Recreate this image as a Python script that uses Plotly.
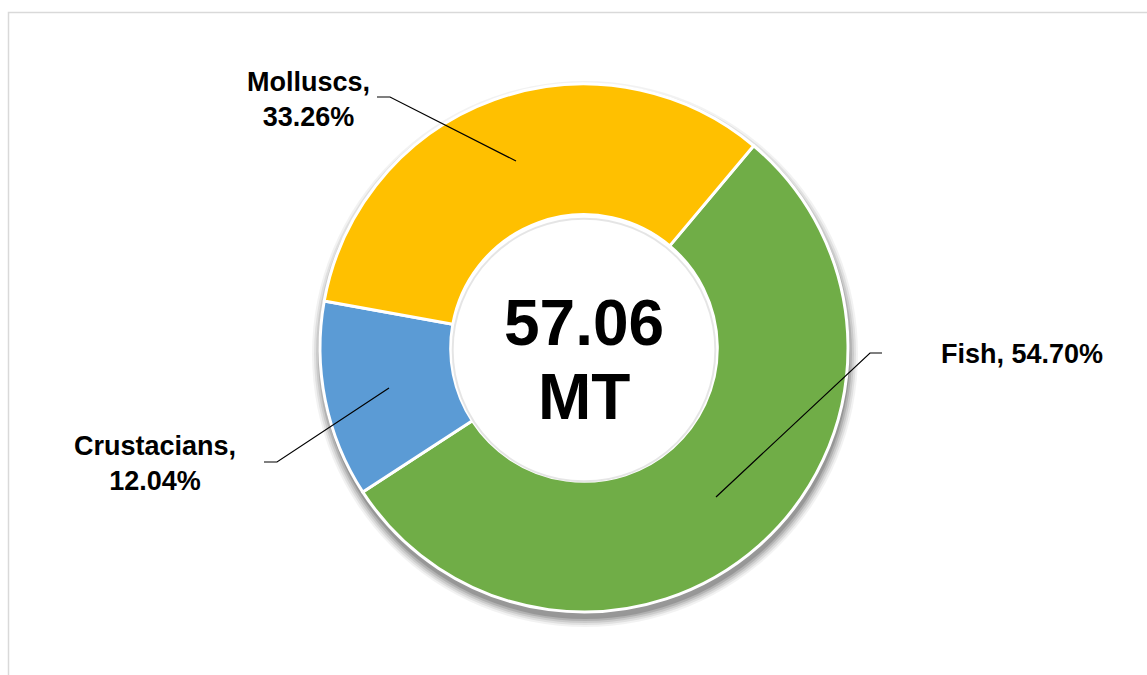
import plotly.graph_objects as go

# ---- data ----
categories = ["Fish", "Crustacians", "Molluscs"]
shares = [54.70, 12.04, 33.26]
colors = ["#70AD47", "#5B9BD5", "#FFC000"]
total_value = "57.06"
total_unit = "MT"

W, H = 1147, 675

def px(x):
    return x / W

def py(y):
    return 1 - y / H

cx, cy, R = 584, 348, 264
HOLE = 0.505

fig = go.Figure()

fig.add_trace(go.Pie(
    labels=categories,
    values=shares,
    sort=False,
    direction="clockwise",
    rotation=40,
    hole=HOLE,
    marker=dict(colors=colors, line=dict(color="white", width=3)),
    textinfo="none",
    hoverinfo="skip",
    showlegend=False,
    domain=dict(x=[px(cx - R), px(cx + R)], y=[py(cy + R), py(cy - R)]),
))

shapes = []
# border
shapes.append(dict(type="rect", xref="paper", yref="paper",
                   x0=px(8.5), x1=px(W + 20), y0=py(H + 20), y1=py(12.5),
                   line=dict(color="#D9D9D9", width=1.5), fillcolor="rgba(0,0,0,0)", layer="below"))
# soft shadow under outer ring
for dr, op in [(9, 0.05), (7, 0.07), (5, 0.09), (3, 0.12), (1, 0.15)]:
    r = R + dr
    sx, sy = cx + 1, cy + 6
    shapes.append(dict(type="circle", xref="paper", yref="paper",
                       x0=px(sx - r), x1=px(sx + r), y0=py(sy + r), y1=py(sy - r),
                       line=dict(width=0), fillcolor=f"rgba(0,0,0,{op})", layer="below"))
# white hole cover (over the shadow)
rh = R * HOLE
shapes.append(dict(type="circle", xref="paper", yref="paper",
                   x0=px(cx - rh), x1=px(cx + rh), y0=py(cy + rh), y1=py(cy - rh),
                   line=dict(width=0), fillcolor="white", layer="below"))
# faint inner shadow on hole edge
ri = rh - 2
shapes.append(dict(type="circle", xref="paper", yref="paper",
                   x0=px(cx - ri), x1=px(cx + ri), y0=py(cy + ri + 2), y1=py(cy - ri + 2),
                   line=dict(color="rgba(0,0,0,0.10)", width=2), fillcolor="rgba(0,0,0,0)", layer="above"))

# leader lines (label anchor -> elbow -> slice point)
leaders = {
    "Molluscs": [(377, 97), (390, 97), (516, 161)],
    "Crustacians": [(264, 462), (277, 462), (389, 388)],
    "Fish": [(882, 353), (870, 353), (716, 497)],
}
for name, pts in leaders.items():
    path = "M " + " L ".join(f"{px(x)},{py(y)}" for x, y in pts)
    shapes.append(dict(type="path", xref="paper", yref="paper", path=path,
                       line=dict(color="black", width=1.2)))

annotations = []
label_pos = {
    "Molluscs": (308, 99, True),
    "Crustacians": (155, 463, True),
    "Fish": (1022, 354, False),
}
font_lbl = dict(family="Liberation Sans, Arial, sans-serif", size=27, color="black")
for name, val in zip(categories, shares):
    x, y, two = label_pos[name]
    txt = f"<b>{name},<br>{val:.2f}%</b>" if two else f"<b>{name}, {val:.2f}%</b>"
    annotations.append(dict(x=px(x), y=py(y), xref="paper", yref="paper", text=txt,
                            showarrow=False, font=font_lbl, align="center",
                            xanchor="center", yanchor="middle"))

font_ctr = dict(family="Liberation Sans, Arial, sans-serif", size=64, color="black")
annotations.append(dict(x=px(cx), y=py(323), xref="paper", yref="paper", text=f"<b>{total_value}</b>",
                        showarrow=False, font=font_ctr, xanchor="center", yanchor="middle"))
annotations.append(dict(x=px(cx), y=py(397), xref="paper", yref="paper", text=f"<b>{total_unit}</b>",
                        showarrow=False, font=font_ctr, xanchor="center", yanchor="middle"))

fig.update_layout(
    width=W, height=H,
    margin=dict(l=0, r=0, t=0, b=0),
    paper_bgcolor="white",
    plot_bgcolor="white",
    shapes=shapes,
    annotations=annotations,
    showlegend=False,
)

fig.write_html("out.html", config={"displayModeBar": False},
               post_script="document.body.style.margin='0';")
